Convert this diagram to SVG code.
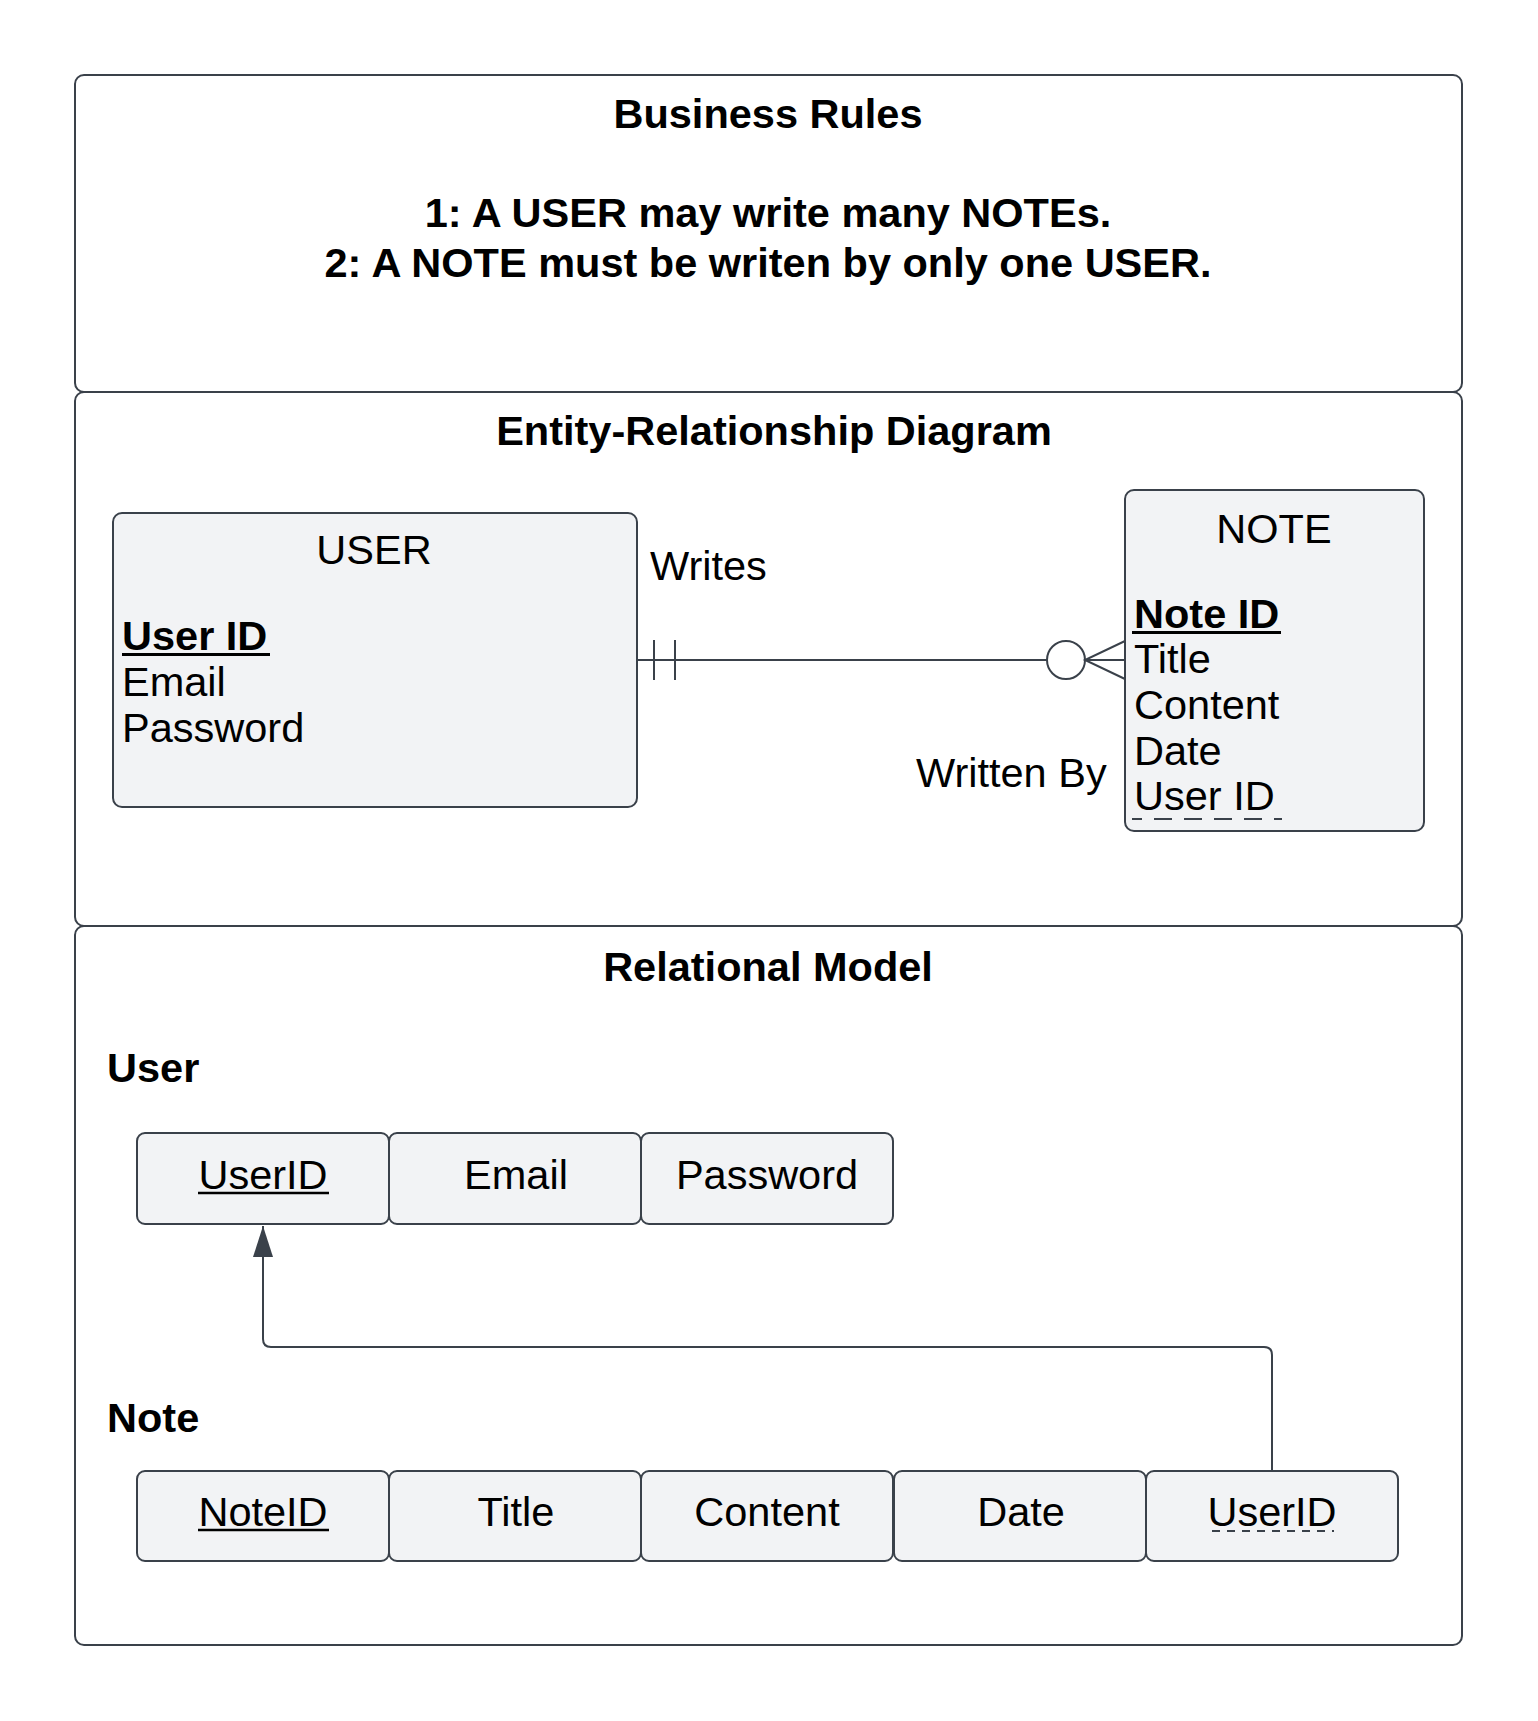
<svg xmlns="http://www.w3.org/2000/svg" width="1538" height="1721" viewBox="0 0 1538 1721">
<defs>
<style>
text{font-family:"Liberation Sans",Arial,sans-serif;font-size:41.5px;fill:#000}
.b{font-weight:bold}
.m{text-anchor:middle}
.frame{fill:#fff;stroke:#3a414a;stroke-width:2}
.ent{fill:#f2f3f5;stroke:#3a414a;stroke-width:2}
.ln{fill:none;stroke:#3a414a;stroke-width:2}
.ul{stroke:#000;stroke-width:3}
</style>
<marker id="arr" markerWidth="32" markerHeight="20" refX="31" refY="10" orient="auto" markerUnits="userSpaceOnUse" viewBox="0 0 32 20">
<path d="M0,0 L31,10 L0,20 Z" fill="#3a414a"/>
</marker>
</defs>
<rect width="1538" height="1721" fill="#fff"/>

<g id="business-rules">
<rect class="frame" x="75" y="75" width="1387" height="317" rx="9"/>
<text class="b m" x="768" y="128">Business Rules</text>
<text class="b m" x="768" y="227">1: A USER may write many NOTEs.</text>
<text class="b m" x="768" y="277">2: A NOTE must be writen by only one USER.</text>
</g>

<g id="er-diagram">
<rect class="frame" x="75" y="392" width="1387" height="534" rx="9"/>
<text class="b m" x="774" y="445">Entity-Relationship Diagram</text>
</g>

<g id="relational-model">
<rect class="frame" x="75" y="926" width="1387" height="719" rx="9"/>
<text class="b m" x="768" y="981">Relational Model</text>
<text class="b" x="107" y="1082">User</text>
<text class="b" x="107" y="1432">Note</text>
</g>

<g id="user-entity">
<rect class="ent" x="113" y="513" width="524" height="294" rx="9"/>
<text class="m" x="374" y="564">USER</text>
<text class="b" x="122" y="650">User ID</text>
<line class="ul" x1="122" y1="654.5" x2="270" y2="654.5"/>
<text x="122" y="696">Email</text>
<text x="122" y="742">Password</text>
</g>

<g id="note-entity">
<rect class="ent" x="1125" y="490" width="299" height="341" rx="9"/>
<text class="m" x="1274" y="543">NOTE</text>
<text class="b" x="1134" y="628">Note ID</text>
<line class="ul" x1="1132" y1="632.5" x2="1281" y2="632.5"/>
<text x="1134" y="673">Title</text>
<text x="1134" y="719">Content</text>
<text x="1134" y="765">Date</text>
<text x="1134" y="810">User ID</text>
<line x1="1132" y1="819" x2="1282" y2="819" stroke="#3a414a" stroke-width="2" stroke-dasharray="18 12" stroke-dashoffset="8"/>
</g>

<g id="user-table">
<rect class="ent" x="137" y="1133" width="252" height="91" rx="8"/>
<rect class="ent" x="389" y="1133" width="252" height="91" rx="8"/>
<rect class="ent" x="641" y="1133" width="252" height="91" rx="8"/>
<text class="m" x="263" y="1189">UserID</text>
<line x1="198" y1="1193" x2="329" y2="1193" stroke="#000" stroke-width="2.5"/>
<text class="m" x="516" y="1189">Email</text>
<text class="m" x="767" y="1189">Password</text>
</g>

<g id="note-table">
<rect class="ent" x="137" y="1471" width="252" height="90" rx="8"/>
<rect class="ent" x="389" y="1471" width="252" height="90" rx="8"/>
<rect class="ent" x="641" y="1471" width="252" height="90" rx="8"/>
<rect class="ent" x="894" y="1471" width="252" height="90" rx="8"/>
<rect class="ent" x="1146" y="1471" width="252" height="90" rx="8"/>
<text class="m" x="263" y="1526">NoteID</text>
<line x1="198" y1="1530" x2="329" y2="1530" stroke="#000" stroke-width="2.5"/>
<text class="m" x="516" y="1526">Title</text>
<text class="m" x="767" y="1526">Content</text>
<text class="m" x="1021" y="1526">Date</text>
<text class="m" x="1272" y="1526">UserID</text>
<line x1="1212" y1="1531" x2="1334" y2="1531" stroke="#3a414a" stroke-width="2" stroke-dasharray="8 7"/>
</g>

<g id="connectors">
<line class="ln" x1="637" y1="660" x2="1047" y2="660"/>
<line class="ln" x1="654" y1="640" x2="654" y2="680"/>
<line class="ln" x1="675" y1="640" x2="675" y2="680"/>
<circle class="ln" cx="1066" cy="660" r="19"/>
<path class="ln" d="M1125,641 L1085,660 L1125,679 M1085,660 L1125,660"/>
<text x="650" y="580">Writes</text>
<text x="916" y="787">Written By</text>
<path class="ln" d="M1272,1471 L1272,1355 Q1272,1347 1264,1347 L271,1347 Q263,1347 263,1339 L263,1226" marker-end="url(#arr)"/>
</g>
</svg>
